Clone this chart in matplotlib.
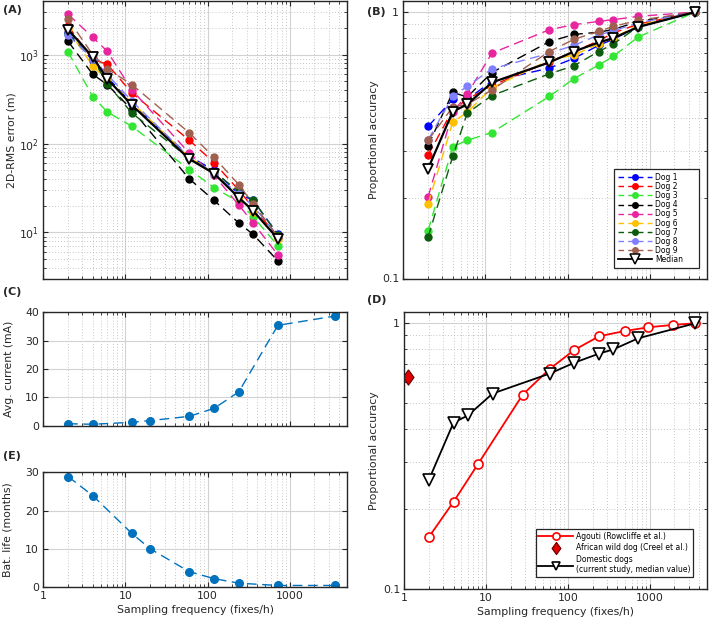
import matplotlib
matplotlib.use('Agg')
import matplotlib.pyplot as plt
from matplotlib.lines import Line2D
from matplotlib.ticker import NullFormatter

plt.rcParams['font.family'] = 'DejaVu Sans'
plt.rcParams['font.size'] = 8

# sampling frequencies (fixes/h)
freq = [2, 4, 6, 12, 60, 120, 240, 360, 720]
freq_acc = [2, 4, 6, 12, 60, 120, 240, 360, 720, 3600]
freq_batt = [2, 4, 12, 20, 60, 120, 240, 720, 3600]
freq_agouti = [2, 4, 8, 28, 60, 120, 240, 500, 960, 1920, 3600]

dog_names = ['Dog 1', 'Dog 2', 'Dog 3', 'Dog 4', 'Dog 5', 'Dog 6', 'Dog 7', 'Dog 8', 'Dog 9']
dog_colors = ['#0000ff', '#ff0000', '#33e633', '#000000', '#e8259f',
              '#ffc000', '#0d5c0d', '#8080ff', '#a0604f']

# (A) 2D-RMS error (m)
rms_dog1 = [1800, 850, 560, 280, 72, 50, 27, 23, 9.5]
rms_dog2 = [2100, 880, 780, 370, 109, 61, 30, 19, 9]
rms_dog3 = [1070, 337, 227, 156, 51, 32, 22, 15, 7.1]
rms_dog4 = [1410, 600, 460, 240, 40, 23, 12.8, 9.5, 4.8]
rms_dog5 = [2840, 1565, 1090, 400, 78, 44, 20.4, 12.8, 5.6]
rms_dog6 = [1950, 740, 520, 290, 70, 47, 25, 17, 8.5]
rms_dog7 = [1700, 900, 470, 220, 68, 48, 29, 23, 9.4]
rms_dog8 = [1650, 900, 600, 300, 70, 46, 27, 20, 9]
rms_dog9 = [2500, 1000, 690, 460, 132, 70, 34.6, 21, 9]
rms_median = [1910, 940, 533, 270, 67, 46, 24.7, 17.5, 8.5]

# (B) proportional accuracy
acc_dog1 = [0.372, 0.47, 0.47, 0.55, 0.616, 0.67, 0.75, 0.79, 0.88, 1]
acc_dog2 = [0.29, 0.43, 0.47, 0.53, 0.65, 0.71, 0.78, 0.834, 0.90, 1]
acc_dog3 = [0.151, 0.312, 0.33, 0.353, 0.482, 0.563, 0.632, 0.681, 0.805, 1]
acc_dog4 = [0.315, 0.499, 0.48, 0.593, 0.774, 0.824, 0.84, 0.86, 0.92, 1]
acc_dog5 = [0.202, 0.42, 0.492, 0.701, 0.858, 0.897, 0.922, 0.936, 0.963, 1]
acc_dog6 = [0.19, 0.386, 0.42, 0.52, 0.66, 0.69, 0.76, 0.80, 0.89, 1]
acc_dog7 = [0.143, 0.287, 0.417, 0.486, 0.586, 0.629, 0.711, 0.758, 0.88, 1]
acc_dog8 = [0.331, 0.482, 0.526, 0.612, 0.70, 0.75, 0.82, 0.85, 0.91, 1]
acc_dog9 = [0.33, 0.44, 0.45, 0.51, 0.711, 0.79, 0.846, 0.883, 0.93, 1]
acc_median = [0.258, 0.423, 0.45, 0.544, 0.647, 0.711, 0.769, 0.798, 0.878, 1]

# (C) and (E)
current_ma = [0.7, 0.5, 1.2, 1.8, 3.3, 6.1, 11.9, 35.4, 38.7]
battery_months = [28.9, 23.9, 14.0, 10.0, 4.0, 2.2, 1.0, 0.4, 0.4]

# (D)
acc_agouti = [0.157, 0.213, 0.296, 0.539, 0.674, 0.794, 0.894, 0.936, 0.966, 0.986, 1.0]
wilddog_freq = [1.12]
wilddog_acc = [0.63]

rms_dogs = [rms_dog1, rms_dog2, rms_dog3, rms_dog4, rms_dog5, rms_dog6, rms_dog7, rms_dog8, rms_dog9]
acc_dogs = [acc_dog1, acc_dog2, acc_dog3, acc_dog4, acc_dog5, acc_dog6, acc_dog7, acc_dog8, acc_dog9]

W, H = 709, 622
fig = plt.figure(figsize=(W / 100, H / 100), dpi=100)


def rect(l, t, r, b):
    return [l / W, 1 - b / H, (r - l) / W, (b - t) / H]


AX_COL = '#262626'
BLUE = '#0072bd'
LAB = 7.8
DASH = (7, 4)
diamond = [(0, 1), (0.72, 0), (0, -1), (-0.72, 0), (0, 1)]


def style(ax, logy=False):
    ax.set_xscale('log')
    ax.set_xlim(1, 5000)
    ax.set_axisbelow(True)
    ax.tick_params(which='both', direction='in', top=True, right=True,
                   color=AX_COL, labelcolor=AX_COL, labelsize=LAB, pad=3)
    ax.tick_params(which='major', length=3.5, width=0.8)
    ax.tick_params(which='minor', length=2, width=0.6)
    ax.grid(True, which='major', color='#d2d2d2', lw=0.8, ls='-')
    ax.grid(True, which='minor', axis='both' if logy else 'x',
            color='#b4b4b4', lw=0.6, ls=(0, (1, 2.5)))
    for s in ax.spines.values():
        s.set_color(AX_COL)
        s.set_linewidth(1.0)
    ax.xaxis.set_minor_formatter(NullFormatter())
    if logy:
        ax.set_yscale('log')
        ax.yaxis.set_minor_formatter(NullFormatter())


# (A)
axA = fig.add_axes(rect(43.3, 1, 347, 279))
style(axA, logy=True)
for vals, c in zip(rms_dogs, dog_colors):
    axA.plot(freq, vals, color=c, marker='o', ms=5, lw=1.0, dashes=DASH)
axA.plot(freq, rms_median, color='black', lw=1.6, marker='v', ms=7.5,
         mfc='white', mec='black', mew=1.3)
axA.set_ylim(3, 4000)
axA.set_xticklabels([])
axA.set_ylabel('2D-RMS error (m)', fontsize=LAB, color=AX_COL, labelpad=2)

# (B)
axB = fig.add_axes(rect(403.3, 1, 707, 278.5))
style(axB, logy=True)
for vals, c in zip(acc_dogs, dog_colors):
    axB.plot(freq_acc, vals, color=c, marker='o', ms=5, lw=1.0, dashes=DASH)
axB.plot(freq_acc, acc_median, color='black', lw=1.6, marker='v', ms=7.5,
         mfc='white', mec='black', mew=1.3)
axB.set_ylim(0.1, 1.1)
axB.set_yticks([0.1, 1])
axB.set_yticklabels(['0.1', '1'])
axB.set_xticklabels([])
axB.set_ylabel('Proportional accuracy', fontsize=LAB, color=AX_COL, labelpad=2)
hB = [Line2D([], [], color=c, marker='o', ms=4, lw=1.0, dashes=(4, 3))
      for c in dog_colors]
hB.append(Line2D([], [], color='black', lw=1.3, marker='v', ms=6.5,
                 mfc='white', mec='black', mew=1.1))
legB = axB.legend(hB, dog_names + ['Median'], loc='lower left', mode='expand',
                  bbox_to_anchor=(0.694, 0.038, 0.280, 0.2), fontsize=5.5,
                  labelspacing=0.02, handlelength=4.5, handletextpad=0.4,
                  borderpad=0.5, fancybox=False, framealpha=1, edgecolor=AX_COL,
                  borderaxespad=0)
legB.get_frame().set_linewidth(0.9)

# (C)
axC = fig.add_axes(rect(43.3, 312.3, 347, 425.7))
style(axC)
axC.plot(freq_batt, current_ma, color=BLUE, marker='o', ms=5.5, lw=1.0, dashes=DASH)
axC.set_ylim(0, 40)
axC.set_yticks([0, 10, 20, 30, 40])
axC.set_xticklabels([])
axC.set_ylabel('Avg. current (mA)', fontsize=LAB, color=AX_COL, labelpad=8)

# (E)
axE = fig.add_axes(rect(43.3, 472.3, 347, 587))
style(axE)
axE.plot(freq_batt, battery_months, color=BLUE, marker='o', ms=5.5, lw=1.0, dashes=DASH)
axE.set_ylim(0, 30)
axE.set_yticks([0, 10, 20, 30])
axE.set_xticks([1, 10, 100, 1000])
axE.set_xticklabels(['1', '10', '100', '1000'])
axE.set_ylabel('Bat. life (months)', fontsize=LAB, color=AX_COL, labelpad=9)
axE.set_xlabel('Sampling frequency (fixes/h)', fontsize=LAB, color=AX_COL, labelpad=3)

# (D)
axD = fig.add_axes(rect(404.3, 312.3, 707, 589))
style(axD, logy=True)
axD.plot(freq_agouti, acc_agouti, color='#ff0000', lw=1.3, marker='o', ms=6.5,
         mfc='white', mec='#ff0000', mew=1.2, label='Agouti (Rowcliffe et al.)')
axD.plot(wilddog_freq, wilddog_acc, ls='none', marker=diamond, ms=11, color='#e00000',
         mec='#600000', mew=0.8, label='African wild dog (Creel et al.)')
axD.plot(freq_acc, acc_median, color='black', lw=1.3, marker='v', ms=8,
         mfc='white', mec='black', mew=1.2,
         label='Domestic dogs\n(current study, median value)')
axD.set_ylim(0.1, 1.1)
axD.set_yticks([0.1, 1])
axD.set_yticklabels(['0.1', '1'])
axD.set_xticks([1, 10, 100, 1000])
axD.set_xticklabels(['1', '10', '100', '1000'])
axD.set_ylabel('Proportional accuracy', fontsize=LAB, color=AX_COL, labelpad=2.5)
axD.set_xlabel('Sampling frequency (fixes/h)', fontsize=LAB, color=AX_COL, labelpad=3)
legD = axD.legend(loc='lower right', bbox_to_anchor=(0.954, 0.043), fontsize=5.5,
                  labelspacing=0.35, handlelength=4.5, handletextpad=0.4,
                  borderpad=0.35, fancybox=False, framealpha=1, edgecolor=AX_COL,
                  borderaxespad=0, markerscale=0.8)
legD.get_frame().set_linewidth(0.9)

# panel letters
for x, y, s in [(3, 10, '(A)'), (367, 12, '(B)'), (3, 292, '(C)'),
                (367, 300, '(D)'), (3, 456, '(E)')]:
    fig.text(x / W, 1 - y / H, s, fontsize=8, fontweight='bold', va='center',
             ha='left', color=AX_COL)

fig.savefig('out.png', dpi=100)
